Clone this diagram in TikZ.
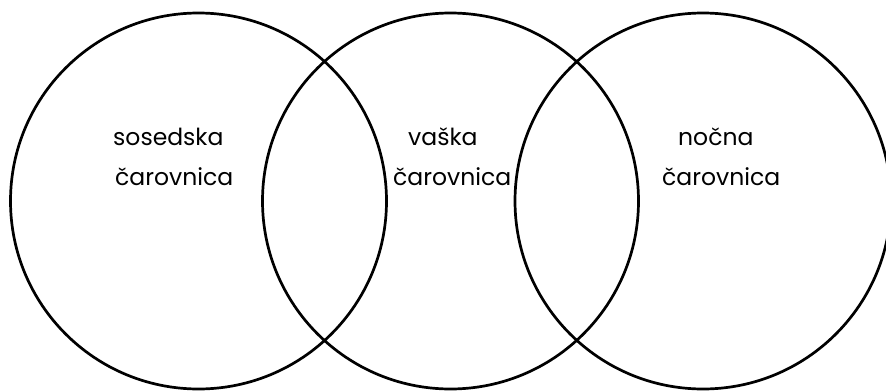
\documentclass[tikz,border=0pt]{standalone}
\usepackage{fontspec}
\setmainfont{Poppins}
\begin{document}
\begin{tikzpicture}[x=1pt,y=-1pt,
  ring/.style={circle,draw=black,line width=2.7pt,minimum size=376pt,inner sep=0pt},
  lbl/.style={anchor=base west,inner sep=0pt,font=\fontsize{23.5}{28}\selectfont}]
\useasboundingbox (0,0) rectangle (886,391);
\node[ring] (c1) at (198.5,201) {};
\node[ring] (c2) at (450.5,201) {};
\node[ring] (c3) at (703,201) {};
\node[lbl] (t1a) at (113,145) {sosedska};
\node[lbl] (t1b) at (115,185) {čarovnica};
\node[lbl] (t2a) at (408,145) {vaška};
\node[lbl] (t2b) at (393,185) {čarovnica};
\node[lbl] (t3a) at (678,145) {nočna};
\node[lbl] (t3b) at (662,185) {čarovnica};
\end{tikzpicture}
\end{document}
